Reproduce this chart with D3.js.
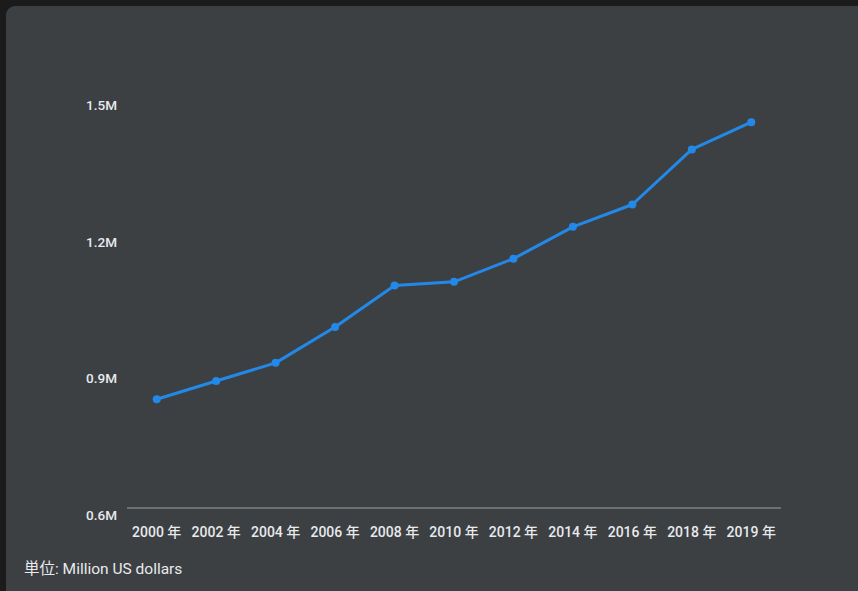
<!DOCTYPE html>
<html>
<head>
<meta charset="utf-8">
<script src="https://cdn.jsdelivr.net/npm/d3@7"></script>
<style>
  html, body { margin: 0; padding: 0; background: #1b1b1b; }
  svg { display: block; }
</style>
</head>
<body>
<svg id="chart" width="858" height="591"></svg>
<script>
// Annual values, million US dollars
const years = ["2000", "2002", "2004", "2006", "2008", "2010", "2012", "2014", "2016", "2018", "2019"];
const values = [0.839, 0.879, 0.919, 0.998, 1.089, 1.097, 1.148, 1.218, 1.267, 1.388, 1.448];
const yTicks = [0.6, 0.9, 1.2, 1.5];
const yearSuffix = " 年";
const unitLabel = "単位: Million US dollars";

const svg = d3.select("#chart");
const font = "Roboto, 'Noto Sans CJK JP', sans-serif";

// card background
svg.append("rect")
  .attr("x", 6).attr("y", 6)
  .attr("width", 870).attr("height", 600)
  .attr("rx", 9).attr("ry", 9)
  .attr("fill", "#3c4043");

const x = d3.scaleBand().domain(years).range([127, 781]);
const y = d3.scaleLinear().domain([0.6, 1.5]).range([508, 98.5]);

// baseline
svg.append("line")
  .attr("x1", 127).attr("x2", 781)
  .attr("y1", y(0.6)).attr("y2", y(0.6))
  .attr("stroke", "#9aa0a6").attr("stroke-width", 1);

// y tick labels
svg.append("g").selectAll("text")
  .data(yTicks)
  .join("text")
  .attr("x", 117)
  .attr("y", d => y(d) + 8)
  .attr("text-anchor", "end")
  .attr("dominant-baseline", "middle")
  .attr("font-family", font)
  .attr("font-size", 13.5)
  .attr("font-weight", 500)
  .attr("fill", "#e8eaed")
  .text(d => d.toFixed(1) + "M");

// x tick labels
svg.append("g").selectAll("text")
  .data(years)
  .join("text")
  .attr("x", d => x(d) + x.bandwidth() / 2)
  .attr("y", 533)
  .attr("text-anchor", "middle")
  .attr("dominant-baseline", "middle")
  .attr("font-family", font)
  .attr("font-size", 14)
  .attr("font-weight", 500)
  .attr("fill", "#e8eaed")
  .text(d => d + yearSuffix);

const pts = years.map((yr, i) => ({ yr, v: values[i] }));
const cx = d => x(d.yr) + x.bandwidth() / 2;

// series line
svg.append("path")
  .datum(pts)
  .attr("fill", "none")
  .attr("stroke", "#2389e8")
  .attr("stroke-width", 3)
  .attr("stroke-linejoin", "round")
  .attr("d", d3.line().x(cx).y(d => y(d.v)));

// point markers
svg.append("g").selectAll("circle")
  .data(pts)
  .join("circle")
  .attr("cx", cx)
  .attr("cy", d => y(d.v))
  .attr("r", 4)
  .attr("fill", "#2389e8");

// unit footer
svg.append("text")
  .attr("x", 24)
  .attr("y", 570)
  .attr("dominant-baseline", "middle")
  .attr("font-family", font)
  .attr("font-size", 15.5)
  .attr("fill", "#e8eaed")
  .text(unitLabel);
</script>
</body>
</html>
